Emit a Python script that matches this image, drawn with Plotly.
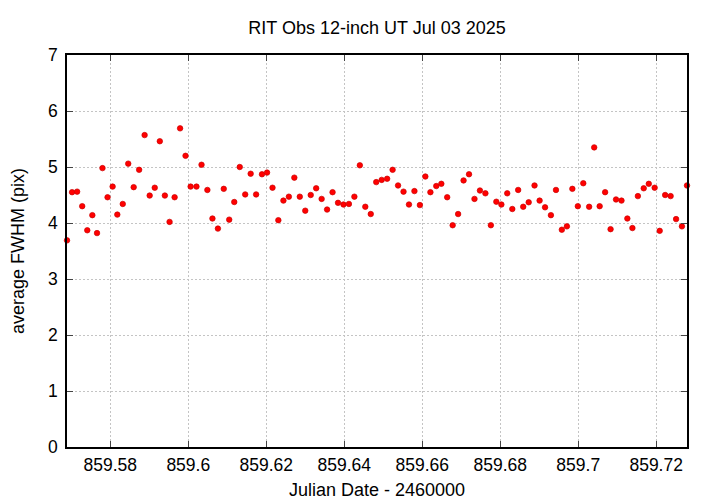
import plotly.graph_objects as go

jd = [859.5689, 859.5702, 859.5715, 859.5728, 859.5741, 859.5754, 859.5766, 859.5780, 859.5793, 859.5806,
      859.5818, 859.5832, 859.5846, 859.5860, 859.5874, 859.5888, 859.5901, 859.5914, 859.5927, 859.5940,
      859.5952, 859.5965, 859.5979, 859.5993, 859.6006, 859.6021, 859.6034, 859.6049, 859.6062, 859.6076,
      859.6091, 859.6105, 859.6118, 859.6132, 859.6146, 859.6160, 859.6174, 859.6189, 859.6202, 859.6216,
      859.6231, 859.6244, 859.6258, 859.6272, 859.6286, 859.6300, 859.6314, 859.6328, 859.6342, 859.6356,
      859.6370, 859.6384, 859.6398, 859.6412, 859.6426, 859.6440, 859.6454, 859.6468, 859.6482, 859.6496,
      859.6510, 859.6524, 859.6538, 859.6552, 859.6566, 859.6580, 859.6594, 859.6608, 859.6621, 859.6636,
      859.6649, 859.6664, 859.6678, 859.6692, 859.6706, 859.6720, 859.6734, 859.6748, 859.6762, 859.6776,
      859.6790, 859.6803, 859.6818, 859.6831, 859.6846, 859.6859, 859.6873, 859.6888, 859.6901, 859.6915,
      859.6930, 859.6943, 859.6958, 859.6971, 859.6985, 859.6999, 859.7013, 859.7028, 859.7041, 859.7055,
      859.7069, 859.7083, 859.7097, 859.7111, 859.7126, 859.7139, 859.7153, 859.7168, 859.7181, 859.7196,
      859.7209, 859.7223, 859.7237, 859.7251, 859.7266, 859.7279]

fwhm = [3.69, 4.55, 4.56, 4.30, 3.87, 4.14, 3.82, 4.98, 4.46, 4.65,
        4.15, 4.34, 5.06, 4.64, 4.95, 5.57, 4.49, 4.63, 5.46, 4.49,
        4.02, 4.46, 5.69, 5.20, 4.65, 4.65, 5.04, 4.59, 4.08, 3.90,
        4.61, 4.06, 4.375, 5.00, 4.51, 4.88, 4.51, 4.87, 4.90, 4.63,
        4.05, 4.40, 4.47, 4.81, 4.47, 4.22, 4.50, 4.62, 4.43, 4.24,
        4.55, 4.36, 4.33, 4.34, 4.47, 5.03, 4.29, 4.16, 4.73, 4.77,
        4.79, 4.95, 4.67, 4.56, 4.33, 4.57, 4.32, 4.83, 4.55, 4.66,
        4.70, 4.46, 3.96, 4.16, 4.76, 4.87, 4.43, 4.58, 4.53, 3.96,
        4.38, 4.33, 4.53, 4.25, 4.59, 4.29, 4.37, 4.67, 4.40, 4.28,
        4.14, 4.59, 3.88, 3.94, 4.61, 4.30, 4.71, 4.29, 5.35, 4.30,
        4.55, 3.89, 4.42, 4.40, 4.08, 3.91, 4.48, 4.62, 4.70, 4.63,
        3.86, 4.50, 4.48, 4.07, 3.94, 4.67]

x_ticks = [859.58, 859.60, 859.62, 859.64, 859.66, 859.68, 859.70, 859.72]
x_labels = ["859.58", "859.6", "859.62", "859.64", "859.66", "859.68", "859.7", "859.72"]

title = "RIT Obs 12-inch UT Jul 03 2025"
x_title = "Julian Date - 2460000"
y_title = "average FWHM (pix)"

FONT = "Liberation Sans, Arial, sans-serif"

fig = go.Figure()
fig.add_trace(go.Scatter(
    x=jd, y=fwhm, mode="markers",
    marker=dict(color="#ff0000", size=5.5, line=dict(color="#cc0000", width=0.7)),
    cliponaxis=False, showlegend=False,
))

axis_common = dict(
    showline=True, linecolor="black", linewidth=1.5, mirror="ticks",
    ticks="inside", ticklen=6, tickwidth=1, tickcolor="#444444",
    showgrid=True, gridcolor="#c4c4c4", griddash="2px,2px", gridwidth=1,
    zeroline=False, automargin=False,
    tickfont=dict(size=17.5, color="black", family=FONT),
)

fig.update_layout(
    width=720, height=504,
    paper_bgcolor="white", plot_bgcolor="white",
    margin=dict(l=58.5, r=41, t=47, b=65, autoexpand=False),
    font=dict(family=FONT, size=17.5, color="black"),
    title=dict(text=title, x=369 / 720, xref="container", xanchor="center",
               y=1 - 20 / 504, yref="container", yanchor="middle",
               font=dict(size=18, family=FONT, color="black"), automargin=False),
    xaxis=dict(range=[859.5689, 859.7279], tickvals=x_ticks, ticktext=x_labels, ticklabelstandoff=1,
               title=dict(text=x_title, standoff=10, font=dict(size=18, family=FONT)), **axis_common),
    yaxis=dict(range=[0, 7], dtick=1, tick0=0, ticklabelstandoff=4,
               title=dict(text=y_title, standoff=24, font=dict(size=18, family=FONT)), **axis_common),
)

fig.write_html("out.html")
